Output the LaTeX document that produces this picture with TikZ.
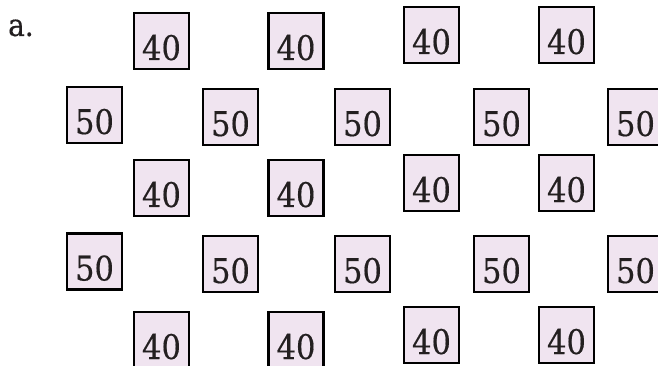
\documentclass[tikz,border=0pt]{standalone}
\usepackage{fontspec}
\setmainfont{DejaVu Serif Condensed}[FakeBold=0.4]
\definecolor{tilefill}{RGB}{240,228,240}
\definecolor{ink}{RGB}{35,31,32}
\tikzset{
  tile/.style={draw=black,line width=2.2pt,fill=tilefill,minimum width=55pt,
    minimum height=56pt,inner sep=0pt,text height=38pt,text depth=0pt,
    font=\fontsize{34}{40}\selectfont,text=ink}
}
\begin{document}
\begin{tikzpicture}[x=1pt,y=-1pt]
\useasboundingbox (0,0) rectangle (658,366);
\node[anchor=base west,font=\fontsize{31}{36}\selectfont,text=ink,inner sep=0pt] (lbl) at (8,36) {a.};

% first row of forties
\node[tile] (r1a) at (161.5,41) {40};
\node[tile] (r1b) at (296,41) {40};
\node[tile] (r1c) at (431.5,35) {40};
\node[tile] (r1d) at (566.5,35) {40};

% fifties
\node[tile] (r2a) at (94.5,115) {50};
\node[tile] (r2b) at (230.5,117) {50};
\node[tile] (r2c) at (362.5,117) {50};
\node[tile] (r2d) at (501.5,117) {50};
\node[tile] (r2e) at (635.5,117) {50};

\node[tile] (r3a) at (161.5,188) {40};
\node[tile] (r3b) at (296,188) {40};
\node[tile] (r3c) at (431.5,183) {40};
\node[tile] (r3d) at (566.5,183) {40};

\node[tile] (r4a) at (94.5,261.5) {50};
\node[tile] (r4b) at (230.5,264) {50};
\node[tile] (r4c) at (362.5,264) {50};
\node[tile] (r4d) at (501.5,264) {50};
\node[tile] (r4e) at (635.5,264) {50};

\node[tile] (r5a) at (161.5,340) {40};
\node[tile] (r5b) at (296,340) {40};
\node[tile] (r5c) at (431.5,335) {40};
\node[tile] (r5d) at (566.5,335) {40};
\end{tikzpicture}
\end{document}
